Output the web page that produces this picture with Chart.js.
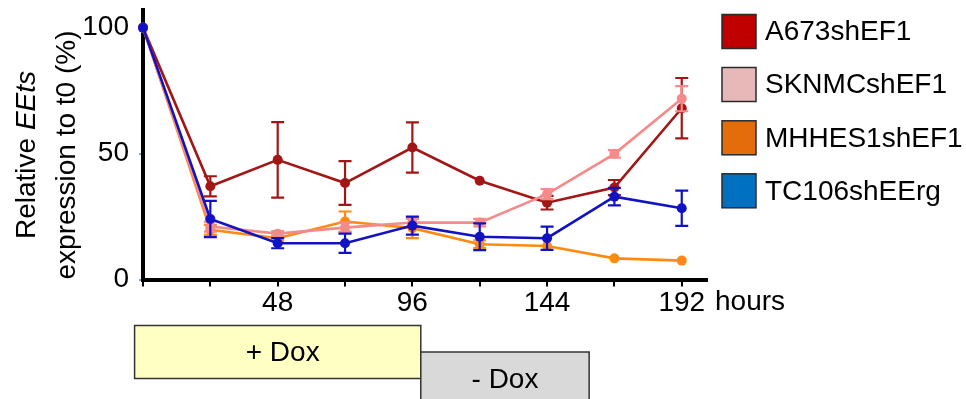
<!DOCTYPE html>
<html>
<head>
<meta charset="utf-8">
<script src="https://cdn.jsdelivr.net/npm/chart.js@4/dist/chart.umd.min.js"></script>
<style>
  html, body { margin: 0; padding: 0; background: #ffffff; }
  #wrap { width: 966px; height: 399px; position: relative; overflow: hidden; }
</style>
</head>
<body>
<div id="wrap"><canvas id="c" width="966" height="399"></canvas></div>
<script>
// ---- data ----
const hours = [0, 24, 48, 72, 96, 120, 144, 168, 192];
const seriesNames = ['A673shEF1', 'SKNMCshEF1', 'MHHES1shEF1', 'TC106shEErg'];

const a673 = [100, 37, 47.5, 38.3, 52.4, 39.2, 30.5, 36.5, 68];
const a673Err = [0, 4, 15, 8.7, 10, 0, 2.7, 3, 12];

const sknmc = [100, 21, 18.2, 20.6, 22.6, 22.6, 33.9, 49.9, 71.8];
const sknmcErr = [0, 2, 1, 2, 1.5, 1.5, 2, 1.5, 5];

const mhhes1 = [100, 19.7, 16.4, 23, 20.4, 14, 13.3, 8.4, 7.5];
const mhhes1Err = [0, 2, 1, 4, 4, 1.5, 0, 0, 0];

const tc106 = [100, 24, 14.4, 14.4, 21.4, 17, 16.4, 32.9, 28.3];
const tc106Err = [0, 7.2, 2, 3.8, 3.6, 5.3, 4.6, 3.5, 7];

const xTickLabels = [48, 96, 144, 192];
const yTickValues = [0, 50, 100];
const xAxisUnit = 'hours';
const yTitleLine1 = ['Relative ', 'EEts'];
const yTitleLine2 = 'expression to t0 (%)';

const doxPhases = ['+ Dox', '- Dox'];
const doxFrom = [-3, 99];
const doxTo = [99, 159];

// ---- styles ----
const lineColors = ['#a31616', '#f58a8a', '#ff8a12', '#1212c4'];
const swatchColors = ['#c00000', '#e6b9b8', '#e46c0a', '#0070c0'];
const FONT = '"Liberation Sans", Arial, sans-serif';

const valueSets = [a673, sknmc, mhhes1, tc106];
const errSets = [a673Err, sknmcErr, mhhes1Err, tc106Err];
const drawOrder = [3, 1, 2, 0]; // blue on top

const datasets = seriesNames.map((name, i) => ({
  label: name,
  data: hours.map((h, j) => ({ x: h, y: valueSets[i][j] })),
  errors: errSets[i],
  borderColor: lineColors[i],
  backgroundColor: lineColors[i],
  pointBackgroundColor: lineColors[i],
  pointBorderWidth: 0,
  pointRadius: 5,
  borderWidth: 2.6,
  tension: 0,
  clip: false,
  order: drawOrder[i]
}));

const errorBars = {
  id: 'errorBars',
  afterDatasetDraw(chart, args) {
    const ds = chart.data.datasets[args.index];
    const meta = args.meta;
    const ys = chart.scales.y;
    const ctx = chart.ctx;
    ctx.save();
    ctx.strokeStyle = ds.borderColor;
    ctx.lineWidth = 2.2;
    meta.data.forEach((pt, j) => {
      const e = ds.errors[j];
      if (!e) return;
      const v = ds.data[j].y;
      const top = ys.getPixelForValue(v + e);
      const bot = ys.getPixelForValue(v - e);
      const x = pt.x;
      ctx.beginPath();
      ctx.moveTo(x, top); ctx.lineTo(x, bot);
      ctx.moveTo(x - 6.5, top); ctx.lineTo(x + 6.5, top);
      ctx.moveTo(x - 6.5, bot); ctx.lineTo(x + 6.5, bot);
      ctx.stroke();
    });
    ctx.restore();
  }
};

const decorations = {
  id: 'decorations',
  afterDraw(chart) {
    const ctx = chart.ctx;
    const xs = chart.scales.x;
    const area = chart.chartArea;
    ctx.save();
    ctx.fillStyle = '#000';
    ctx.font = '28px ' + FONT;

    // axis unit
    ctx.textAlign = 'left';
    ctx.textBaseline = 'middle';
    ctx.fillText(xAxisUnit, area.right + 8, 302);

    // y title (rotated, two lines)
    const yc = 155;
    ctx.save();
    ctx.translate(35, yc);
    ctx.rotate(-Math.PI / 2);
    ctx.textBaseline = 'alphabetic';
    ctx.font = '28px ' + FONT;
    const w1 = ctx.measureText(yTitleLine1[0]).width;
    ctx.font = 'italic 28px ' + FONT;
    const w2 = ctx.measureText(yTitleLine1[1]).width;
    let sx = -(w1 + w2) / 2;
    ctx.textAlign = 'left';
    ctx.font = '28px ' + FONT;
    ctx.fillText(yTitleLine1[0], sx, 0);
    ctx.font = 'italic 28px ' + FONT;
    ctx.fillText(yTitleLine1[1], sx + w1, 0);
    ctx.restore();
    ctx.save();
    ctx.translate(75, yc);
    ctx.rotate(-Math.PI / 2);
    ctx.textAlign = 'center';
    ctx.textBaseline = 'alphabetic';
    ctx.font = '28px ' + FONT;
    ctx.fillText(yTitleLine2, 0, 0);
    ctx.restore();

    // legend
    const rowY = [31.5, 84.5, 137.8, 190.8];
    seriesNames.forEach((name, i) => {
      const cy = rowY[i];
      ctx.fillStyle = swatchColors[i];
      ctx.fillRect(722, cy - 17, 34, 34);
      ctx.strokeStyle = '#2a2a2a';
      ctx.lineWidth = 1.5;
      ctx.strokeRect(722, cy - 17, 34, 34);
      ctx.fillStyle = '#000';
      ctx.font = '28px ' + FONT;
      ctx.textAlign = 'left';
      ctx.textBaseline = 'middle';
      ctx.fillText(name, 765, cy + 1);
    });

    // Dox phase boxes
    const boxTop = [325.5, 352];
    const boxBot = [378.5, 412];
    const fills = ['#ffffc4', '#d9d9d9'];
    doxPhases.forEach((lab, i) => {
      const x0 = xs.getPixelForValue(doxFrom[i]);
      const x1 = xs.getPixelForValue(doxTo[i]);
      ctx.fillStyle = fills[i];
      ctx.fillRect(x0, boxTop[i], x1 - x0, boxBot[i] - boxTop[i]);
      ctx.strokeStyle = '#333';
      ctx.lineWidth = 1.5;
      ctx.strokeRect(x0, boxTop[i], x1 - x0, boxBot[i] - boxTop[i]);
    });
    ctx.fillStyle = '#000';
    ctx.font = '28px ' + FONT;
    ctx.textAlign = 'center';
    ctx.textBaseline = 'middle';
    const x0 = xs.getPixelForValue(doxFrom[0]), x1 = xs.getPixelForValue(doxTo[0]);
    ctx.fillText(doxPhases[0], (x0 + x1) / 2 + 5, 353);
    const x2 = xs.getPixelForValue(doxFrom[1]), x3 = xs.getPixelForValue(doxTo[1]);
    ctx.fillText(doxPhases[1], (x2 + x3) / 2, 380);
    ctx.restore();
  }
};

new Chart(document.getElementById('c'), {
  type: 'line',
  data: { datasets },
  options: {
    responsive: false,
    devicePixelRatio: 1,
    animation: false,
    layout: { padding: { left: 0, right: 259, top: 10, bottom: 0 } },
    plugins: { legend: { display: false }, tooltip: { enabled: false } },
    scales: {
      x: {
        type: 'linear',
        min: 0,
        max: 201,
        afterBuildTicks: s => { s.ticks = hours.map(h => ({ value: h })); },
        afterFit: s => { s.height = 119.5; s.paddingLeft = 0; s.paddingRight = 0; },
        ticks: {
          autoSkip: false,
          maxRotation: 0,
          color: '#000',
          padding: 0,
          font: { family: FONT, size: 28 },
          callback: v => xTickLabels.includes(v) ? String(v) : ''
        },
        grid: { drawOnChartArea: false, drawTicks: true, tickLength: 7, color: '#000', lineWidth: 2 },
        border: { color: '#000', width: 4 }
      },
      y: {
        min: 0,
        max: 107,
        afterBuildTicks: s => { s.ticks = yTickValues.map(v => ({ value: v })); },
        afterFit: s => { s.width = 143; s.paddingTop = 0; s.paddingBottom = 0; },
        ticks: {
          color: '#000',
          padding: 10,
          font: { family: FONT, size: 28 },
          callback: v => String(v)
        },
        grid: { drawOnChartArea: false, drawTicks: true, tickLength: 4, color: '#7aa6dc', lineWidth: 2 },
        border: { color: '#000', width: 4 }
      }
    }
  },
  plugins: [errorBars, decorations]
});
</script>
</body>
</html>
